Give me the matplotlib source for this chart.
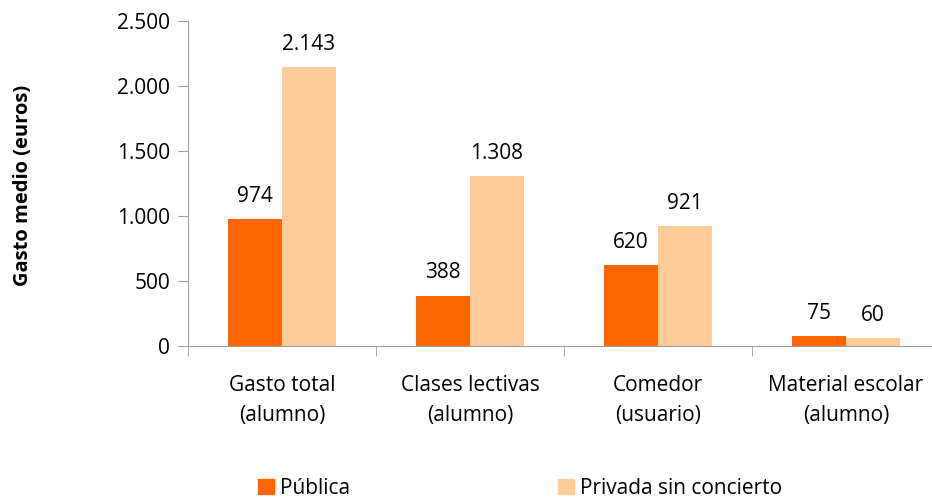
import matplotlib.pyplot as plt
import numpy as np
from matplotlib.patches import Patch

categorias = ['Gasto total\n(alumno)', 'Clases lectivas\n(alumno)',
              'Comedor\n(usuario)', 'Material escolar\n(alumno)']
publica = [974, 388, 620, 75]
privada = [2143, 1308, 921, 60]
series = ['Pública', 'Privada sin concierto']
yticks = [0, 500, 1000, 1500, 2000, 2500]
ytick_labels = ['0', '500', '1.000', '1.500', '2.000', '2.500']


def fmt(v):
    return '{:,}'.format(v).replace(',', '.')


plt.rcParams['font.family'] = ['Open Sans', 'DejaVu Sans']
fs = 15

fig = plt.figure(figsize=(9.32, 4.99), dpi=100)
ax = fig.add_axes([188 / 932, 153 / 499, 752 / 932, 325 / 499])

x = np.arange(len(categorias))
w = 0.287
b1 = ax.bar(x - w / 2, publica, w, color='#FF6600', label=series[0])
b2 = ax.bar(x + w / 2, privada, w, color='#FFCC99', label=series[1])

for rects, vals in ((b1, publica), (b2, privada)):
    for r, v in zip(rects, vals):
        ax.text(r.get_x() + r.get_width() / 2, v + 95, fmt(v),
                ha='center', va='bottom', fontsize=fs, color='black')

ax.set_xlim(-0.5, len(categorias) - 0.5)
ax.set_ylim(0, 2500)
ax.set_yticks(yticks)
ax.set_yticklabels(ytick_labels, fontsize=fs)
ax.set_xticks(x)
ax.set_xticklabels(categorias, fontsize=fs, linespacing=1.55)
ax.set_xticks(np.arange(len(categorias) + 1) - 0.5, minor=True)
ax.tick_params(axis='x', which='major', length=0, pad=21)
ax.tick_params(axis='x', which='minor', length=7, color='#a0a0a0')
ax.tick_params(axis='y', length=7, color='#a0a0a0', pad=6)

for s in ['top', 'right']:
    ax.spines[s].set_visible(False)
for s in ['left', 'bottom']:
    ax.spines[s].set_color('#a0a0a0')

fig.text(23 / 932, 1 - 185 / 499, 'Gasto medio (euros)', rotation=90,
         ha='center', va='center', fontsize=14.5, fontweight='bold')

handles = [Patch(color='#FF6600'), Patch(color='#FFCC99')]
fig.legend(handles, series, loc='center left', bbox_to_anchor=(258 / 932, 1 - 488 / 499),
           ncol=2, frameon=False, fontsize=fs, handlelength=0.75, handleheight=0.75,
           handletextpad=0.3, columnspacing=10.0, borderaxespad=0, borderpad=0)

fig.savefig('out.png', dpi=100)
